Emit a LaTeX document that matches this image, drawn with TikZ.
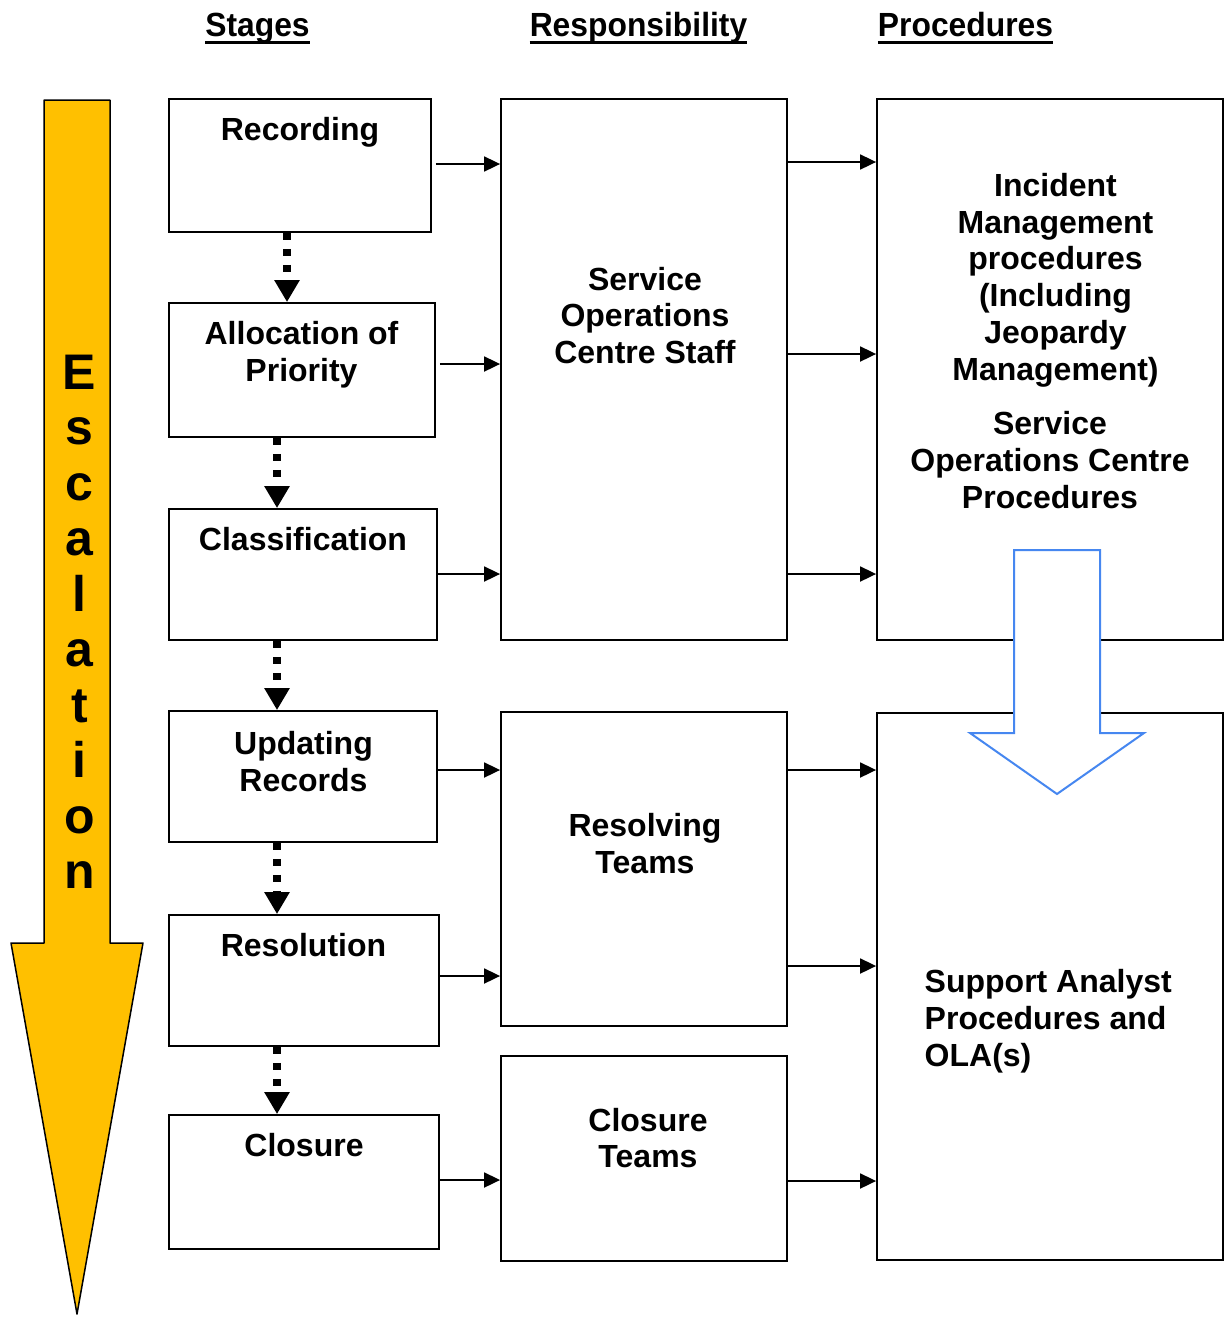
\documentclass[tikz,border=0pt]{standalone}
\usepackage{fontspec}
\setmainfont{Liberation Sans}
\newfontfamily\hdrfont[FakeStretch=0.95]{Liberation Sans}
\usetikzlibrary{arrows.meta}
\definecolor{escorange}{HTML}{FFC000}
\definecolor{flowblue}{RGB}{70,135,240}
\begin{document}
\begin{tikzpicture}[x=1pt,y=-1pt,
  box/.style 2 args={draw, line width=1.8pt, inner sep=0pt, minimum width=#1, minimum height=#2},
  txt/.style={font=\bfseries\fontsize{32}{36.8}\selectfont, align=center, inner sep=0pt},
  hdr/.style={font=\hdrfont\bfseries\fontsize{33.5}{38}\selectfont, inner sep=0pt, anchor=base},
  arr/.style={line width=1.8pt, -{Triangle[length=16pt,width=15pt]}},
  dasharr/.style={line width=8pt, dash pattern=on 7pt off 9pt, -{Triangle[length=22pt,width=24pt]}},
  uline/.style={line width=3.3pt}
]
\useasboundingbox (0,0) rectangle (1226,1318);

% escalation arrow
\path[fill=escorange, draw=black, line width=1.5pt, line join=round]
  (44,100) -- (110,100) -- (110,943) -- (143,943) -- (77,1314) -- (11,943) -- (44,943) -- cycle;
\node[font=\bfseries\fontsize{50}{55.5}\selectfont, align=center, inner sep=0pt] (esc) at (79.5,622)
  {E\\s\\c\\a\\l\\a\\t\\i\\o\\n};

% headers
\node[hdr] (hS) at (257.5,36.5) {Stages};
\node[hdr] (hR) at (638.5,36.5) {Responsibility};
\node[hdr] (hP) at (965.5,36.5) {Procedures};
\draw[uline] ([yshift=-5.8pt]hS.base west) -- ([yshift=-5.8pt]hS.base east);
\draw[uline] ([yshift=-5.8pt]hR.base west) -- ([yshift=-5.8pt]hR.base east);
\draw[uline] ([yshift=-5.8pt]hP.base west) -- ([yshift=-5.8pt]hP.base east);

% stage boxes
\node[box={262}{133}] (rec) at (300,165.5) {};
\node[box={266}{134}] (alloc) at (302,370) {};
\node[box={268}{131}] (class) at (303,574.5) {};
\node[box={268}{131}] (upd) at (303,776.5) {};
\node[box={270}{131}] (reso) at (304,980.5) {};
\node[box={270}{134}] (clos) at (304,1182) {};

\node[txt] (recT) at (300,132) {Recording};
\node[txt] (allocT) at (301.5,354.5) {Allocation of\\Priority};
\node[txt] (classT) at (303,539) {Classification};
\node[txt] (updT) at (303.5,761.5) {Updating\\Records};
\node[txt] (resoT) at (303.5,945.5) {Resolution};
\node[txt] (closT) at (304,1145.5) {Closure};

% responsibility boxes
\node[box={286}{541}] (soc) at (644,369.5) {};
\node[box={286}{314}] (resTm) at (644,869) {};
\node[box={286}{205}] (closTm) at (644,1158.5) {};

\node[txt] (socT) at (645,315.5) {Service\\Operations\\Centre Staff};
\node[txt] (resTmT) at (645,843.5) {Resolving\\Teams};
\node[txt] (closTmT) at (648,1138) {Closure\\Teams};

% procedure boxes
\node[box={346}{541}] (procA) at (1050,369.5) {};
\node[box={346}{547}] (procB) at (1050,986.5) {};

\node[txt] (incT) at (1055.5,280) {Incident\\Management\\procedures\\(Including\\Jeopardy\\Management)};
\node[txt] (socP) at (1050,460) {Service\\Operations Centre\\Procedures};
\node[txt, align=left, anchor=west] (supT) at (924.5,1021) {Support Analyst\\Procedures and\\OLA(s)};

% blue arrow
\path[fill=white, draw=flowblue, line width=2pt]
  (1014,550) -- (1100,550) -- (1100,733) -- (1144,733) -- (1057,794) -- (970,733) -- (1014,733) -- cycle;

% dashed stage arrows
\draw[dasharr] (rec.south -| 287,0) -- (alloc.north -| 287,0);
\draw[dasharr] (alloc.south -| 277,0) -- (class.north -| 277,0);
\draw[dasharr] (class.south -| 277,0) -- (upd.north -| 277,0);
\draw[dasharr] (upd.south -| 277,0) -- (reso.north -| 277,0);
\draw[dasharr] (reso.south -| 277,0) -- (clos.north -| 277,0);

% stage -> responsibility
\draw[arr, shorten <=4pt] (rec.east |- 0,164) -- (soc.west |- 0,164);
\draw[arr, shorten <=4pt] (alloc.east |- 0,364) -- (soc.west |- 0,364);
\draw[arr] (class.east |- 0,574) -- (soc.west |- 0,574);
\draw[arr] (upd.east |- 0,770) -- (resTm.west |- 0,770);
\draw[arr] (reso.east |- 0,976) -- (resTm.west |- 0,976);
\draw[arr] (clos.east |- 0,1180) -- (closTm.west |- 0,1180);

% responsibility -> procedures
\draw[arr] (soc.east |- 0,162) -- (procA.west |- 0,162);
\draw[arr] (soc.east |- 0,354) -- (procA.west |- 0,354);
\draw[arr] (soc.east |- 0,574) -- (procA.west |- 0,574);
\draw[arr] (resTm.east |- 0,770) -- (procB.west |- 0,770);
\draw[arr] (resTm.east |- 0,966) -- (procB.west |- 0,966);
\draw[arr] (closTm.east |- 0,1181) -- (procB.west |- 0,1181);
\end{tikzpicture}
\end{document}
